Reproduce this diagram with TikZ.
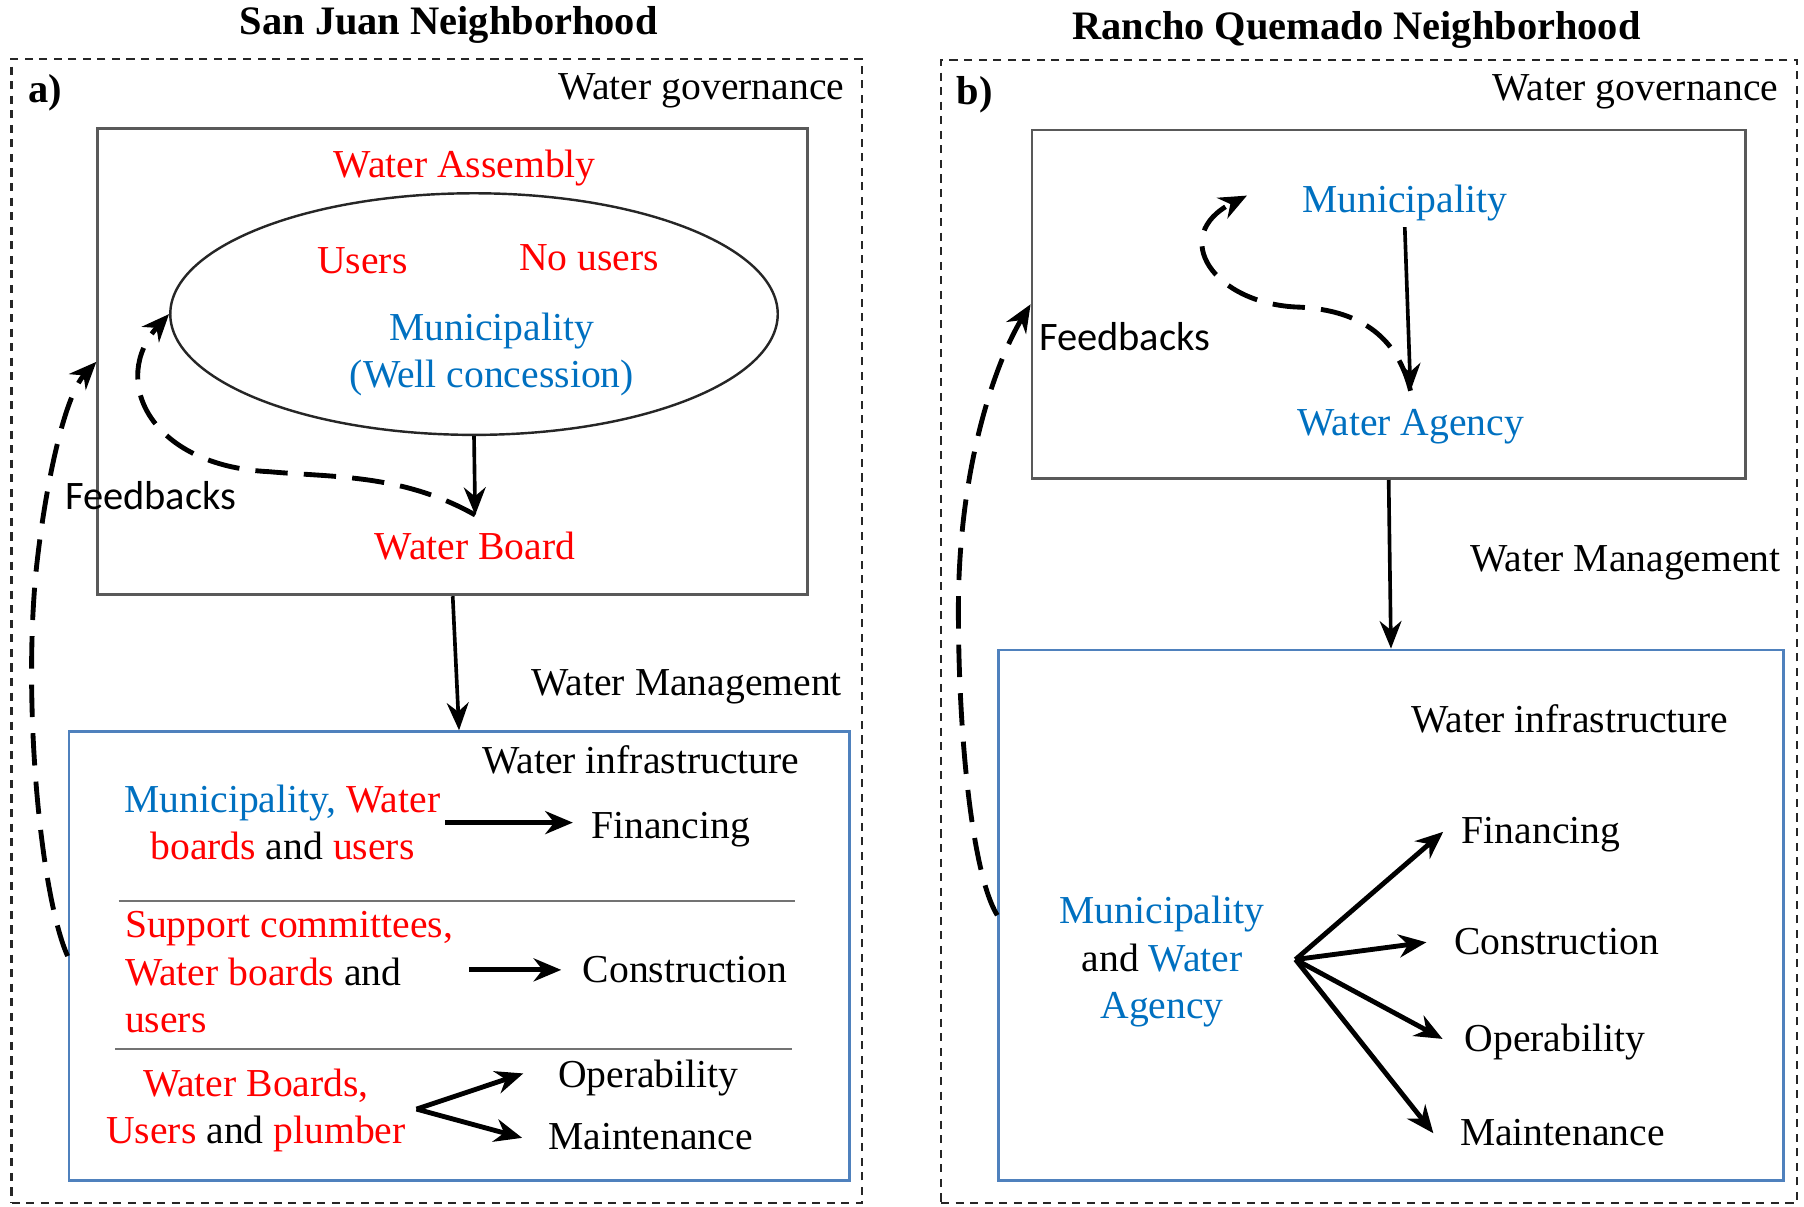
\documentclass[tikz,border=0pt]{standalone}
\usepackage{fontspec}
\setmainfont{Liberation Serif}
\newfontfamily\calibrifont{Carlito}
\usetikzlibrary{shapes.geometric, arrows.meta}
\definecolor{wred}{RGB}{255,0,0}
\definecolor{mblue}{RGB}{0,112,192}
\definecolor{infblue}{RGB}{79,129,189}
\definecolor{govgray}{RGB}{89,89,89}
\newcommand{\redtxt}[1]{\textcolor{wred}{#1}}
\newcommand{\bluetxt}[1]{\textcolor{mblue}{#1}}
\tikzset{
  hoodtitle/.style={font=\bfseries, inner sep=1pt},
  paneltag/.style={font=\bfseries, inner sep=1pt},
  panelbox/.style={rectangle, draw=black!85, line width=0.5pt, dash pattern=on 2pt off 1.6pt, inner sep=0pt},
  govbox/.style={rectangle, draw=govgray, line width=0.7pt, inner sep=0pt},
  infrabox/.style={rectangle, draw=infblue, line width=0.7pt, inner sep=0pt},
  agency/.style={ellipse, draw=black!85, line width=0.6pt, minimum width=52.8mm, minimum height=21mm, inner sep=0pt},
  lvl/.style={inner sep=1pt, text height=0.76em, text depth=0.16em},
  actor/.style={lvl, text=wred},
  munic/.style={lvl, text=mblue},
  multi/.style={align=center, inner sep=1pt},
  fbtxt/.style={lvl, font=\calibrifont},
  govarr/.style={-{Stealth[length=2.4mm, width=1.9mm]}, line width=0.9pt},
  taskarr/.style={-{Stealth[length=2.4mm, width=2mm]}, line width=1.2pt},
  fbloop/.style={-{Stealth[length=2.4mm, width=2mm]}, line width=1.2pt, dash pattern=on 8pt off 4pt},
  sepline/.style={draw=black!55, line width=0.5pt},
}

\begin{document}
\begin{tikzpicture}[font=\fontsize{9.8}{11.7}\selectfont]
\useasboundingbox (0,0) rectangle (15.68,-10.49);

% a) San Juan
\node[hoodtitle] (titA) at (3.90,-0.22) {San Juan Neighborhood};
\node[panelbox, minimum width=73.9mm, minimum height=99.5mm] (panA) at (3.795,-5.485) {};
\node[paneltag] (tagA) at (0.39,-0.81) {a)};
\node[lvl, anchor=east] (gvA) at (7.38,-0.76) {Water governance};

\node[govbox, minimum width=61.7mm, minimum height=40.5mm] (govA) at (3.935,-3.145) {};
\node[actor] (asmA) at (4.04,-1.44) {Water Assembly};
\node[agency] (ellA) at (4.12,-2.73) {};
\node[actor] (usrA) at (3.15,-2.27) {Users};
\node[actor] (nusA) at (5.12,-2.25) {No users};
\node[multi, text=mblue] (munA) at (4.275,-3.08) {Municipality\\(Well concession)};
\node[actor] (wbA) at (4.13,-4.76) {Water Board};
\node[fbtxt] (fbA) at (1.31,-4.32) {Feedbacks};

\node[lvl, anchor=east] (wmA) at (7.36,-5.94) {Water Management};
\node[infrabox, minimum width=67.8mm, minimum height=39mm] (infA) at (3.99,-8.31) {};
\node[lvl] (wiA) at (5.57,-6.62) {Water infrastructure};

\node[multi] (m1A) at (2.455,-7.15) {\bluetxt{Municipality,} \redtxt{Water}\\\redtxt{boards} and \redtxt{users}};
\node[lvl] (finA) at (5.83,-7.18) {Financing};
\node[multi, align=left, anchor=west] (m2A) at (1.045,-8.45) {\redtxt{Support committees,}\\\redtxt{Water boards} and\\\redtxt{users}};
\node[lvl] (conA) at (5.955,-8.43) {Construction};
\node[multi] (m3A) at (2.225,-9.65) {\redtxt{Water Boards,}\\\redtxt{Users} and \redtxt{plumber}};
\node[lvl] (opA) at (5.635,-9.35) {Operability};
\node[lvl] (mtA) at (5.655,-9.89) {Maintenance};
\coordinate (fanA) at (3.62,-9.64);

\draw[sepline] (1.03,-7.83) -- (6.91,-7.83);
\draw[sepline] (1.00,-9.12) -- (6.88,-9.12);

\draw[govarr] (ellA.south) -- ([yshift=0.8mm]wbA.north);
\draw[fbloop] ([yshift=0.8mm]wbA.north) .. controls (3.5,-4.12) and (2.9,-4.15) .. (2.34,-4.10)
  .. controls (1.3,-4.05) and (0.95,-3.3) .. (ellA.west);
\draw[govarr] (govA.south) -- (infA.north);
\draw[fbloop] (infA.west) .. controls (0.36,-7.8) and (0.20,-6.2) .. (0.31,-5.0)
  .. controls (0.38,-4.3) and (0.55,-3.45) .. (govA.west);

\draw[taskarr] (m1A.east) -- ([xshift=-1.2mm]finA.west |- m1A.east);
\draw[taskarr] ([xshift=1mm]m2A.east |- conA.west) -- ([xshift=-1.45mm]conA.west);
\draw[taskarr] (fanA) -- ([xshift=-2.6mm, yshift=0.2mm]opA.west);
\draw[taskarr] (fanA) -- ([xshift=-1.85mm]mtA.west);

% b) Rancho Quemado
\node[hoodtitle] (titB) at (11.79,-0.26) {Rancho Quemado Neighborhood};
\node[panelbox, minimum width=74.4mm, minimum height=99.35mm] (panB) at (11.90,-5.4875) {};
\node[paneltag] (tagB) at (8.47,-0.82) {b)};
\node[lvl, anchor=east] (gvB) at (15.50,-0.77) {Water governance};

\node[govbox, minimum width=62.0mm, minimum height=30.3mm] (govB) at (12.07,-2.645) {};
\node[munic] (munB) at (12.21,-1.74) {Municipality};
\node[munic] (agB) at (12.26,-3.68) {Water Agency};
\node[fbtxt] (fbB) at (9.775,-2.94) {Feedbacks};

\node[lvl, anchor=east] (wmB) at (15.52,-4.86) {Water Management};
\node[infrabox, minimum width=68.2mm, minimum height=46.1mm] (infB) at (12.09,-7.955) {};
\node[lvl] (wiB) at (13.645,-6.26) {Water infrastructure};

\node[multi] (maB) at (10.10,-8.36) {\bluetxt{Municipality}\\and \bluetxt{Water}\\\bluetxt{Agency}};
\coordinate (fanB) at (11.26,-8.34);
\node[lvl] (finB) at (13.395,-7.23) {Financing};
\node[lvl] (conB) at (13.53,-8.19) {Construction};
\node[lvl] (opB) at (13.515,-9.03) {Operability};
\node[lvl] (mtB) at (13.58,-9.85) {Maintenance};

\draw[govarr] ([yshift=-0.3mm]munB.south) -- ([yshift=0.8mm]agB.north);
\draw[fbloop] ([yshift=0.8mm]agB.north) .. controls (12.15,-2.95) and (11.85,-2.70) .. (11.30,-2.67)
  .. controls (10.55,-2.65) and (10.15,-2.05) .. ([xshift=-4.4mm, yshift=0.4mm]munB.west);
\draw[govarr] (govB.south) -- (infB.north);
\draw[fbloop] (infB.west) .. controls (8.45,-7.6) and (8.33,-6.4) .. (8.33,-5.3)
  .. controls (8.33,-4.0) and (8.68,-3.1) .. (govB.west);

\foreach \lbl/\dx in {finB/1.2, conB/2, opB/1.5, mtB/1.9}{
  \draw[taskarr] (fanB) -- ([xshift=-\dx mm]\lbl.west);
}

\end{tikzpicture}
\end{document}
